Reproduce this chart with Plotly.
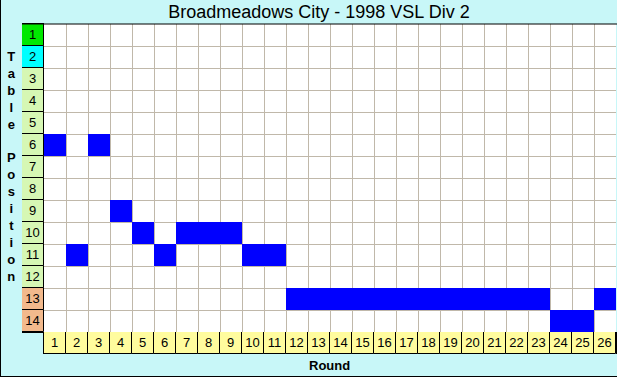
import plotly.graph_objects as go

# ---- data ----
rounds = list(range(1, 27))
positions = [6, 11, 6, 9, 10, 11, 10, 10, 10, 11, 11,
             13, 13, 13, 13, 13, 13, 13, 13, 13, 13, 13, 13,
             14, 14, 13]
table_positions = list(range(1, 15))
position_zone = ["champion", "second"] + ["middle"] * 10 + ["relegation"] * 2
title_text = "Broadmeadows City - 1998 VSL Div 2"
y_title = "Table Position"
x_title = "Round"

# ---- styling ----
W, H = 617, 377
FONT = "Liberation Sans, Arial, sans-serif"
zone_colors = {"champion": "#00e800", "second": "#00ffff",
               "middle": "#d6f7b4", "relegation": "#f2b98c"}
BG = "#c8f7f8"
GRID = "#c0b8aa"
BLUE = "#0000ff"
YELLOW = "#fffc9e"

def px_x(x):
    return x / W

def px_y(y):
    return 1 - y / H

main_x = [px_x(44), px_x(616)]
main_y = [px_y(332), px_y(24)]

fig = go.Figure()

# main grid cells (position per round)
fig.add_trace(go.Bar(
    x=rounds, y=[1] * len(rounds), base=[p - 0.5 for p in positions],
    width=1, marker=dict(color=BLUE, line=dict(width=0)),
    xaxis="x", yaxis="y", hoverinfo="skip", showlegend=False))

# table position label column
fig.add_trace(go.Bar(
    y=table_positions, x=[1] * len(table_positions), orientation="h",
    width=1, marker=dict(color=[zone_colors[z] for z in position_zone],
                         line=dict(color="black", width=1)),
    text=[str(p) for p in table_positions], textposition="inside",
    insidetextanchor="middle", textangle=0, constraintext="none",
    textfont=dict(family=FONT, size=13, color="black"),
    xaxis="x2", yaxis="y2", hoverinfo="skip", showlegend=False))

# round label row
fig.add_trace(go.Bar(
    x=rounds, y=[1] * len(rounds), width=1,
    marker=dict(color=YELLOW, line=dict(color="black", width=1)),
    text=[str(r) for r in rounds], textposition="inside",
    insidetextanchor="middle", textangle=0, constraintext="none",
    textfont=dict(family=FONT, size=13, color="black"),
    xaxis="x3", yaxis="y3", hoverinfo="skip", showlegend=False))

bounds_x = [r + 0.5 for r in range(0, 27)]
bounds_y = [p + 0.5 for p in range(0, 15)]

fig.update_layout(
    width=W, height=H, margin=dict(l=0, r=0, t=0, b=0),
    paper_bgcolor=BG, plot_bgcolor="white", bargap=0,
    font=dict(family=FONT, color="black"),
    title=dict(text=title_text, x=px_x(319), y=px_y(12), xanchor="center",
               yanchor="middle", xref="paper", yref="paper",
               font=dict(family=FONT, size=18, color="black")),
    xaxis=dict(domain=main_x, range=[0.5, 26.5], tickmode="array",
               tickvals=bounds_x, showticklabels=False, ticks="",
               showgrid=True, gridcolor=GRID, gridwidth=1, zeroline=False,
               fixedrange=True),
    yaxis=dict(domain=main_y, range=[14.5, 0.5], tickmode="array",
               tickvals=bounds_y, showticklabels=False, ticks="",
               showgrid=True, gridcolor=GRID, gridwidth=1, zeroline=False,
               fixedrange=True),
    xaxis2=dict(domain=[px_x(22), px_x(44)], range=[0, 1], anchor="y2",
                showgrid=False, showticklabels=False, zeroline=False,
                showline=True, mirror=True, linecolor="black", linewidth=1),
    yaxis2=dict(domain=main_y, range=[14.5, 0.5], anchor="x2",
                showgrid=False, showticklabels=False, zeroline=False),
    xaxis3=dict(domain=main_x, range=[0.5, 26.5], anchor="y3",
                showgrid=False, showticklabels=False, zeroline=False),
    yaxis3=dict(domain=[px_y(354), px_y(332)], range=[0, 1], anchor="x3",
                showgrid=False, showticklabels=False, zeroline=False,
                showline=True, mirror=True, linecolor="black", linewidth=1),
    shapes=[
        dict(type="line", xref="paper", yref="paper", x0=px_x(22), x1=1,
             y0=px_y(24), y1=px_y(24), line=dict(color="black", width=1)),
        dict(type="line", xref="paper", yref="paper", x0=px_x(0.5), x1=px_x(0.5),
             y0=0, y1=1, line=dict(color="black", width=1)),
        dict(type="line", xref="paper", yref="paper", x0=0, x1=1,
             y0=px_y(376.5), y1=px_y(376.5), line=dict(color="black", width=1)),
    ],
    annotations=[
        dict(text="<br>".join(["<b>%s</b>" % c if c != " " else "&nbsp;" for c in y_title]),
             x=px_x(11), y=px_y(166), xref="paper", yref="paper",
             xanchor="center", yanchor="middle", showarrow=False, align="center",
             font=dict(family=FONT, size=13, color="black")),
        dict(text="<b>%s</b>" % x_title, x=px_x(330), y=px_y(365),
             xref="paper", yref="paper", xanchor="center", yanchor="middle",
             showarrow=False, font=dict(family=FONT, size=13, color="black")),
    ],
)

fig.write_html(
    "out.html",
    config={"displayModeBar": False},
    post_script="document.body.style.margin='0px';document.body.style.overflow='hidden';",
)
